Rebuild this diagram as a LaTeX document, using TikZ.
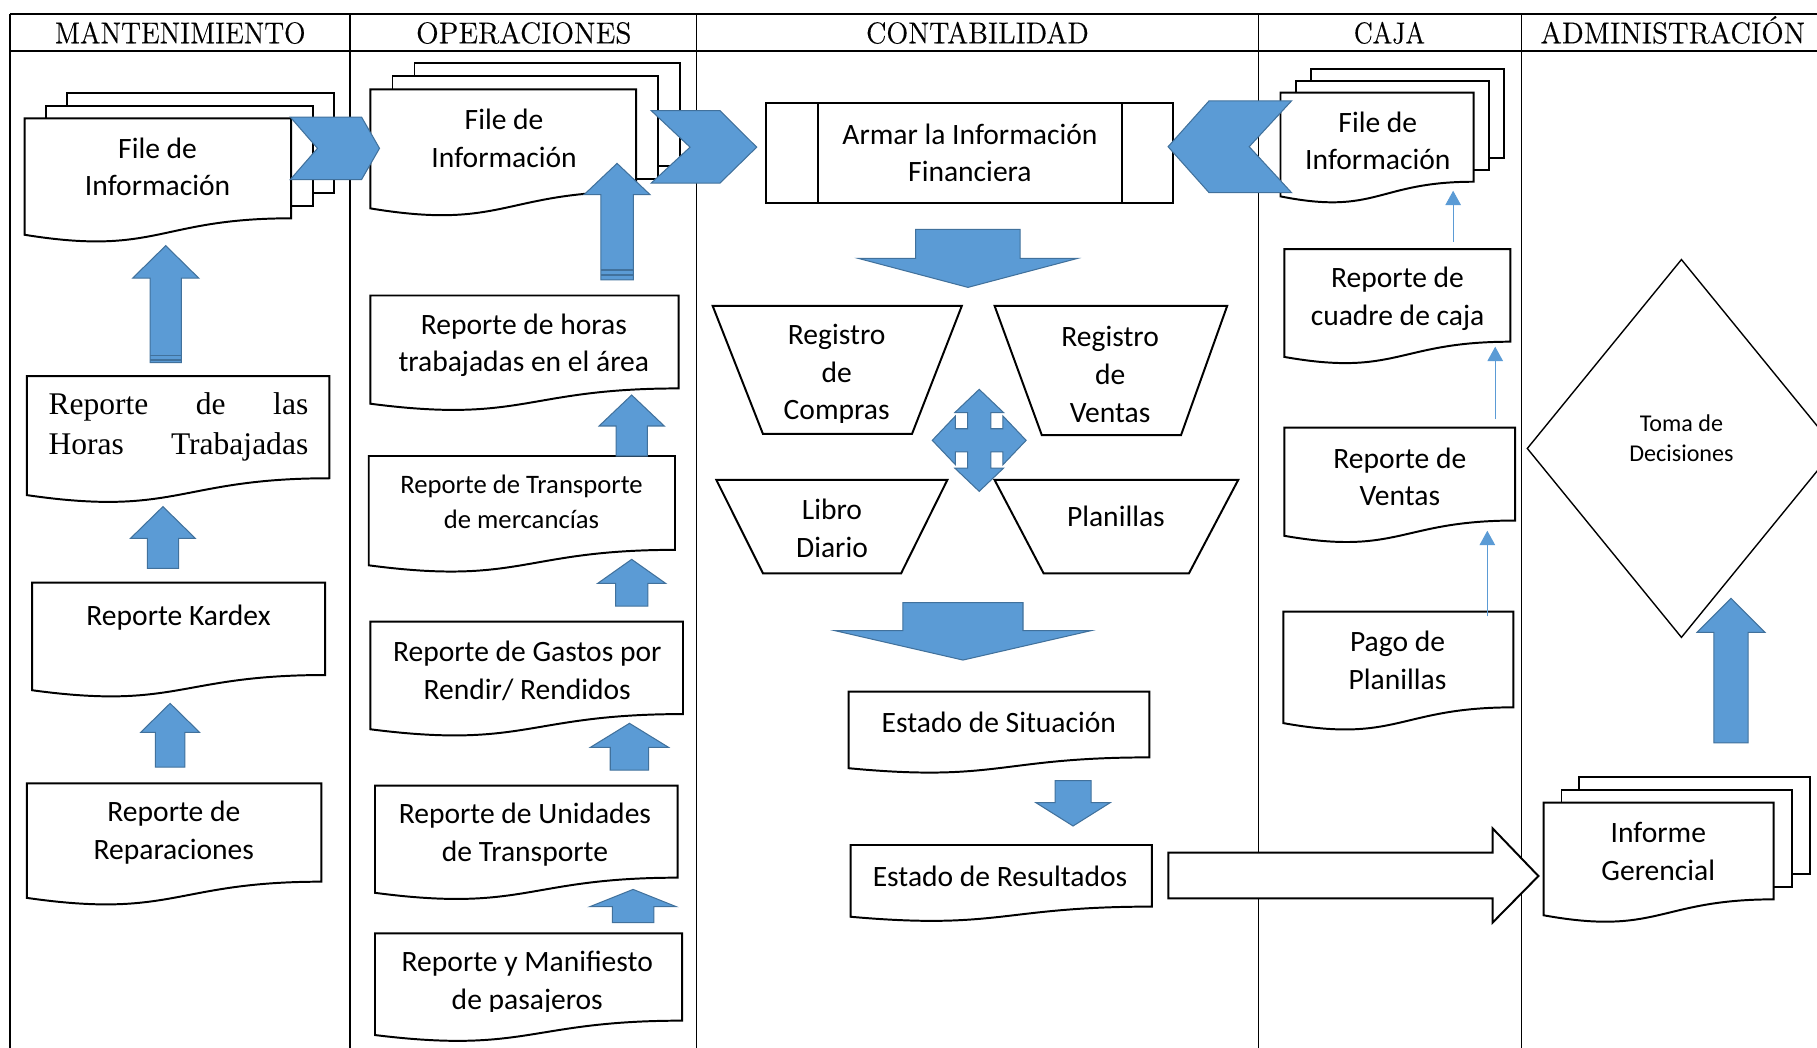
\documentclass[tikz,border=0pt]{standalone}
\usepackage{fontspec}
\usepackage{graphicx}
\usetikzlibrary{arrows.meta}
\newfontfamily\bodyfont{Carlito}
\newfontfamily\timesfont{Liberation Serif}
\newfontfamily\headfont{Latin Modern Roman}[FakeBold=0.35]
\definecolor{arrowblue}{RGB}{91,155,213}
\definecolor{arrowedge}{RGB}{65,113,156}

% document shape with a wavy lower edge: x0, y0, x1, height
\newcommand\docshp[4]{%
  \pgfmathsetmacro\dA{#2+0.802*#4}%
  \pgfmathsetmacro\dB{#2+1.1075*#4}%
  \pgfmathsetmacro\dC{#2+0.934*#4}%
  \pgfmathsetmacro\dM{(#1+#3)/2}%
  \draw[docline] (#1,#2) -- (#3,#2) -- (#3,\dA) .. controls (\dM,\dA) and (\dM,\dB) .. (#1,\dC) -- cycle;}
% stack of three documents: x0, y0, x1, height, dx, dy
\newcommand\multidocshp[6]{%
  \pgfmathsetmacro\dA{#2+0.802*#4}%
  \foreach \k in {2,1}{\draw[docline] ({#1+\k*#5},{#2-\k*#6}) rectangle ({#3+\k*#5},{\dA-\k*#6});}%
  \docshp{#1}{#2}{#3}{#4}}
% vertical block arrow: x, tip y, head-base y, tail y, head half width, shaft half width
\newcommand\vblockarrow[6]{%
  \draw[blockarrow] (#1,#2) -- ({#1+#5},#3) -- ({#1+#6},#3) -- ({#1+#6},#4) -- ({#1-#6},#4) -- ({#1-#6},#3) -- ({#1-#5},#3) -- cycle;}

\tikzset{
  docline/.style={draw=black, line width=0.85pt, fill=white, line join=miter},
  blockarrow/.style={fill=arrowblue, draw=arrowedge, line width=0.45pt, line join=miter},
  lane/.style={line width=0.8pt},
  trap/.style={draw=black, line width=0.85pt, fill=white, line join=miter},
  txt/.style={align=center, inner sep=0pt, font=\bodyfont\fontsize{12.75}{16.25}\selectfont},
  smalltxt/.style={align=center, inner sep=0pt, font=\bodyfont\fontsize{11.5}{15}\selectfont},
  tomatxt/.style={align=center, inner sep=0pt, font=\bodyfont\fontsize{10.4}{13}\selectfont},
  head/.style={inner sep=0pt, anchor=base, font=\headfont\fontsize{13}{14}\selectfont},
  thinarrow/.style={draw=arrowblue, line width=0.45pt, -{Triangle[width=6.7pt,length=6.2pt]}},
}

\begin{document}
\begin{tikzpicture}[x=0.5pt, y=-0.5pt]
\useasboundingbox (0,0) rectangle (1568,904);
\clip (0,0) rectangle (1568,904);

% swimlane table
\draw[lane] (8.5,12) -- (1568,12);
\draw[lane] (8.5,44) -- (1568,44);
\draw[lane] (8.5,12) -- (8.5,904);
\foreach \lx in {302,601,1086,1313} \draw[lane] (\lx,12) -- (\lx,904);

\node[head] (hmant) at (155.5,37.4) {\scalebox{0.93}[1]{MANTENIMIENTO}};
\node[head] (hoper) at (452,37.4) {\scalebox{0.98}[1]{OPERACIONES}};
\node[head] (hcont) at (843.5,37.4) {\scalebox{0.95}[1]{CONTABILIDAD}};
\node[head] (hcaja) at (1199,37.4) {\scalebox{0.88}[1]{CAJA}};
\node[head] (hadmin) at (1443.5,37.4) {\scalebox{0.97}[1]{ADMINISTRACIÓN}};

% ---- MANTENIMIENTO
\multidocshp{21.2}{102.1}{251.2}{107.6}{18.5}{11}
\docshp{23.1}{324.5}{284.3}{110}
\docshp{27.7}{502.8}{280.5}{99.4}
\docshp{23.1}{676}{277.4}{105.8}

% ---- OPERACIONES
\multidocshp{319.7}{77.1}{549}{110}{19}{11.2}
\docshp{319.7}{255}{585.6}{100}
\docshp{318.2}{393.5}{582.5}{101}
\docshp{319.7}{536.5}{589.4}{99.4}
\docshp{323.6}{678}{584.8}{99}
\docshp{323.6}{805.4}{588.6}{94}

% ---- CONTABILIDAD
\draw[docline] (661,89) rectangle (1012,175.5);
\draw[line width=0.85pt] (705.5,89) -- (705.5,175.5) (968,89) -- (968,175.5);
\draw[trap] (615,264) -- (830,264) -- (787,374.5) -- (658.4,374.5) -- cycle;
\draw[trap] (858.3,264) -- (1059,264) -- (1019.2,375.4) -- (899,375.4) -- cycle;
\draw[trap] (618.2,414.2) -- (817.5,414.2) -- (777.6,494.8) -- (658.4,494.8) -- cycle;
\draw[trap] (858.3,414.2) -- (1068.5,414.2) -- (1026,494.8) -- (900.6,494.8) -- cycle;
\docshp{732.3}{596.9}{991.8}{70.7}
\docshp{734}{729.2}{994}{66.3}

% ---- CAJA
\multidocshp{1105}{80}{1271.6}{95.8}{13.3}{10.2}
\docshp{1108.4}{215}{1303.4}{99.6}
\docshp{1108.4}{369}{1307.4}{100}
\docshp{1107.4}{527.8}{1306}{103}

% ---- ADMINISTRACION
\draw[line width=0.6pt, line join=miter] (1451,224) -- (1584,387) -- (1451,550) -- (1318,387) -- cycle;
\multidocshp{1332}{692.7}{1530.6}{104}{15.5}{11}

% block arrows
\vblockarrow{143}{212}{240}{313}{28.5}{13.5}
\draw[arrowedge, line width=0.5pt] (129.5,306.5) -- (156.5,306.5) (129.5,310.7) -- (156.5,310.7);
\vblockarrow{140.6}{437.2}{464.6}{490.5}{28}{13.5}
\vblockarrow{146.8}{607}{632}{662}{25.4}{12.7}

\vblockarrow{532.5}{141}{168}{241.6}{28.5}{14}
\draw[arrowedge, line width=0.5pt] (518.5,233) -- (546.5,233) (518.5,237.3) -- (546.5,237.3);
\vblockarrow{545.1}{340.9}{367.6}{393.5}{28.1}{13.5}
\vblockarrow{545.1}{482.7}{503.4}{523}{29.3}{13.9}
\vblockarrow{543.2}{624.2}{644.9}{664.5}{33.7}{16.6}
\vblockarrow{546.3}{767.5}{782.4}{796.2}{37.2}{17.9}

\vblockarrow{835.3}{248}{223}{197.9}{94.5}{45.1}
\vblockarrow{831}{569.6}{544.2}{520}{110.6}{51.8}
\vblockarrow{926}{712.8}{692.7}{673.7}{32}{15.5}

\vblockarrow{1493.8}{516.3}{545.7}{641}{29.3}{14.8}

% chevrons between the lanes
\draw[blockarrow] (250.5,101) -- (312,101) -- (327.5,128) -- (312,155) -- (250.5,155) -- (274,128) -- cycle;
\draw[blockarrow] (562,95.5) -- (621.3,95.5) -- (653,127) -- (621.3,158) -- (562,158) -- (595.5,127) -- cycle;
\draw[blockarrow] (1114.6,87) -- (1043.4,87) -- (1008,126.6) -- (1043.4,166.3) -- (1114.6,166.3) -- (1078,126.6) -- cycle;

% four-way arrow among the ledgers
\def\cx{845}\def\cy{380}\def\H{40.5}\def\V{44}\def\sw{10}\def\hw{21}\def\hl{20}
\draw[blockarrow] (\cx,\cy-\V) -- (\cx+\hw,\cy-\V+\hl) -- (\cx+\sw,\cy-\V+\hl) -- (\cx+\sw,\cy-\sw)
  -- (\cx+\H-\hl,\cy-\sw) -- (\cx+\H-\hl,\cy-\hw) -- (\cx+\H,\cy) -- (\cx+\H-\hl,\cy+\hw) -- (\cx+\H-\hl,\cy+\sw)
  -- (\cx+\sw,\cy+\sw) -- (\cx+\sw,\cy+\V-\hl) -- (\cx+\hw,\cy+\V-\hl) -- (\cx,\cy+\V) -- (\cx-\hw,\cy+\V-\hl)
  -- (\cx-\sw,\cy+\V-\hl) -- (\cx-\sw,\cy+\sw) -- (\cx-\H+\hl,\cy+\sw) -- (\cx-\H+\hl,\cy+\hw) -- (\cx-\H,\cy)
  -- (\cx-\H+\hl,\cy-\hw) -- (\cx-\H+\hl,\cy-\sw) -- (\cx-\sw,\cy-\sw) -- (\cx-\sw,\cy-\V+\hl) -- (\cx-\hw,\cy-\V+\hl) -- cycle;

% outlined arrow to the management report
\draw[docline] (1008.3,735.8) -- (1288,735.8) -- (1288,714.8) -- (1327.6,756) -- (1288,796.2) -- (1288,775.2) -- (1008.3,775.2) -- cycle;

% thin connectors in CAJA
\coordinate (cuadre-out) at (1254,208.6);
\coordinate (cfile-in) at (1254,164.6);
\coordinate (cventas-out) at (1290.3,361.9);
\coordinate (ccuadre-in) at (1290.3,299.2);
\coordinate (cpago-out) at (1283.5,532);
\coordinate (cventas-in) at (1283.5,458);
\draw[thinarrow] (cuadre-out) -- (cfile-in);
\draw[thinarrow] (cventas-out) -- (ccuadre-in);
\draw[thinarrow] (cpago-out) -- (cventas-in);

% texts
\node[txt] (mfile) at (136,144) {File de\\Información};
\node[anchor=base west, inner sep=0pt] (mhoras) at (41.6,392.6) {\timesfont\fontsize{13.6}{17.3}\selectfont\vbox{\hbox to 112pt{Reporte\hfill de\hfill las}\hbox to 112pt{Horas\hfill Trabajadas}}};
\node[txt] (kardex) at (154,533) {Reporte Kardex};
\node[txt] (repar) at (150,718.5) {Reporte de\\Reparaciones};

\node[txt] (ofile) at (435,119.5) {File de\\Información};
\node[txt] (ohoras) at (452,298) {Reporte de horas\\trabajadas en el área};
\node[smalltxt] (otransp) at (450,433) {Reporte de Transporte\\de mercancías};
\node[txt] (ogastos) at (455,579) {Reporte de Gastos por\\Rendir/ Rendidos};
\node[txt] (ounid) at (453,720.5) {Reporte de Unidades\\de Transporte};
\begin{scope}
\clip (300,790) rectangle (600,872.5);
\node[txt] (omanif) at (455,848) {Reporte y Manifiesto\\de pasajeros};
\end{scope}

\node[txt] (armar) at (837,132) {Armar la Información\\Financiera};
\begin{scope}
\clip (600,250) rectangle (1080,365);
\node[txt] (rcompras) at (722,323) {Registro\\de\\Compras};
\node[txt] (rventas) at (958,323) {Registro\\de\\Ventas};
\end{scope}
\node[txt] (libro) at (718,456) {Libro\\Diario};
\node[txt] (planillas) at (963,446) {Planillas};
\node[txt] (esit) at (862,623) {Estado de Situación};
\node[txt] (eres) at (863,756) {Estado de Resultados};

\node[txt] (cfile) at (1189,121.5) {File de\\Información};
\node[txt] (ccuadre) at (1206,258) {Reporte de\\cuadre de caja};
\node[txt] (cventas) at (1208,411.5) {Reporte de\\Ventas};
\node[txt] (cpago) at (1206,570) {Pago de\\Planillas};

\node[tomatxt] (toma) at (1451,378) {Toma de\\Decisiones};
\node[txt] (informe) at (1431,735) {Informe\\Gerencial};
\end{tikzpicture}
\end{document}
